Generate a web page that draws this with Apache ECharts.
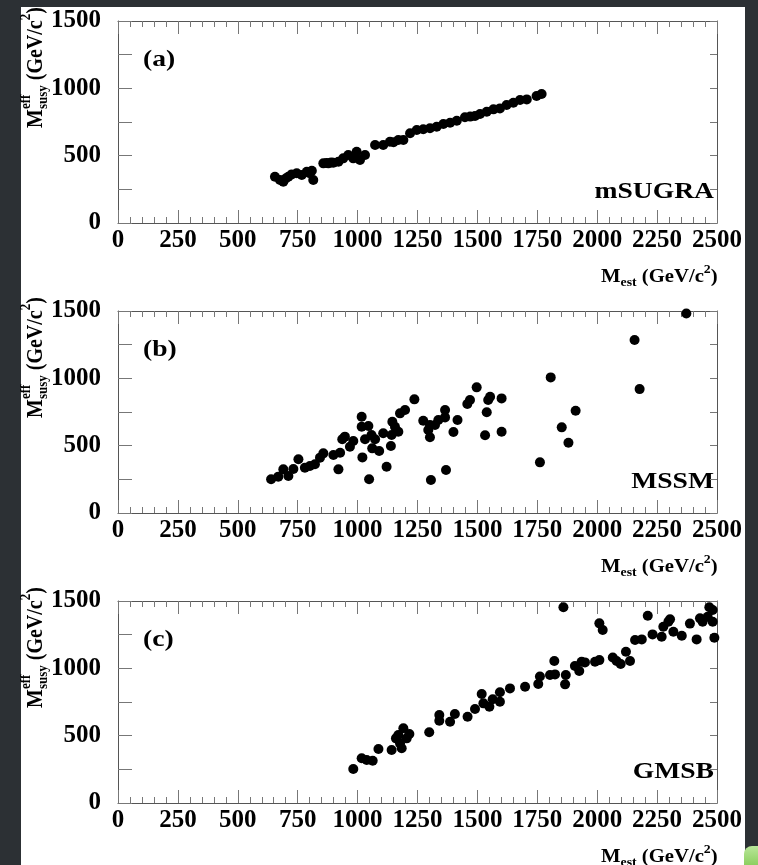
<!DOCTYPE html>
<html>
<head>
<meta charset="utf-8">
<script src="https://cdn.jsdelivr.net/npm/echarts@6/dist/echarts.min.js"></script>
<style>
  html, body { margin: 0; padding: 0; background: #2c3034; }
  #paper { position: absolute; left: 21px; top: 7px; width: 724px; height: 858px; background: #ffffff; }
  #blob { position: absolute; left: 744px; top: 846px; width: 22px; height: 26px; border-radius: 8px 0 0 0;
          background: linear-gradient(180deg, #b9e79a 0%, #7cc64a 100%); }
  #chart { position: absolute; left: 0; top: 0; width: 758px; height: 865px; }
</style>
</head>
<body>
<div id="paper"></div>
<div id="blob"></div>
<div id="chart"></div>
<script>
// ---------------- data ----------------
const xTicks = [0, 250, 500, 750, 1000, 1250, 1500, 1750, 2000, 2250, 2500];
const yTicks = [0, 500, 1000, 1500];
const panelLetters = ['(a)', '(b)', '(c)'];
const panelModels = ['mSUGRA', 'MSSM', 'GMSB'];

const msugraX = [655,676,690,700,711,725,746,767,788,800,809,815,857,870,878,890,899,920,940,961,982,996,1010,1031,1073,1107,1135,1150,1170,1191,1219,1247,1274,1302,1330,1358,1386,1414,1448,1470,1490,1511,1539,1567,1594,1622,1650,1678,1706,1747,1768];
const msugraY = [344,319,307,330,344,361,369,356,381,370,388,319,443,445,443,450,448,455,480,505,480,529,468,505,579,579,604,600,616,616,666,690,696,703,715,735,745,759,785,790,794,809,826,844,851,876,893,913,918,943,958];

const mssmX = [639,669,690,711,732,753,780,801,822,843,857,899,920,927,936,947,968,982,1017,1017,1020,1031,1045,1048,1058,1061,1073,1090,1107,1121,1139,1142,1145,1156,1170,1177,1198,1237,1274,1295,1302,1302,1306,1323,1337,1365,1365,1369,1400,1417,1458,1469,1497,1532,1539,1545,1553,1601,1601,1761,1806,1852,1880,1910,2156,2177,2372];
const mssmY = [250,270,324,275,327,399,336,349,362,411,443,431,324,448,547,567,492,534,715,641,413,547,646,250,579,480,547,460,592,344,497,579,678,641,604,740,765,844,685,616,653,562,245,653,690,765,710,319,601,690,809,839,933,577,748,839,863,851,604,376,1007,636,522,759,1284,920,1482];

const gmsbX = [982,1017,1038,1063,1087,1142,1160,1170,1177,1184,1191,1205,1216,1299,1341,1341,1386,1406,1459,1490,1518,1525,1550,1564,1594,1594,1636,1699,1754,1761,1803,1821,1824,1859,1866,1869,1907,1925,1935,1949,1991,2009,2009,2023,2065,2081,2098,2120,2137,2158,2186,2211,2231,2269,2276,2297,2304,2318,2353,2387,2415,2429,2440,2461,2468,2482,2482,2489];
const gmsbY = [252,332,319,314,401,393,480,505,443,406,555,480,512,525,653,611,604,661,641,698,809,740,715,770,752,822,851,863,884,939,950,1054,955,1453,881,950,1017,980,1049,1044,1049,1061,1334,1284,1081,1054,1032,1123,1054,1210,1215,1391,1252,1235,1309,1346,1364,1272,1242,1332,1215,1371,1346,1383,1453,1346,1433,1227];

const seriesX = [msugraX, mssmX, gmsbX];
const seriesY = [msugraY, mssmY, gmsbY];

// ---------------- layout / style ----------------
const FONT = "'Liberation Serif', 'Times New Roman', serif";
const GRID_LEFT = 118, GRID_W = 599, GRID_H = 202;
const GRID_TOPS = [21, 311, 601];

const cvs = document.createElement('canvas');
const ctx = cvs.getContext('2d');
function measure(t, s) { ctx.font = 'bold ' + s + 'px ' + FONT; return ctx.measureText(t).width; }

function textEl(t, s, x, y, align, sx) {
  align = align || 'left';
  return { type: 'text', x: x, y: y, scaleX: sx || 1, silent: true,
    style: { text: t, fill: '#000', font: 'bold ' + s + 'px ' + FONT,
             align: align, verticalAlign: 'middle', textAlign: align, textVerticalAlign: 'middle' } };
}
function richLabel(parts, x, y, rotation, sx, sy) {
  const children = [];
  let cx = 0, pending = 0;
  parts.forEach(p => {
    children.push(textEl(p.t, p.s, cx, p.dy || 0));
    const w = measure(p.t, p.s);
    if (p.stack) { pending = w; }
    else { cx += Math.max(w, pending); pending = 0; }
  });
  return { type: 'group', x: x, y: y, rotation: rotation || 0, scaleX: sx || 1, scaleY: sy || 1, children: children };
}

const grids = [], xAxes = [], yAxes = [], series = [], graphics = [];
const tickColor = '#777', lineColor = '#555';

for (let i = 0; i < 3; i++) {
  const top = GRID_TOPS[i];
  grids.push({ left: GRID_LEFT, top: top, width: GRID_W, height: GRID_H, containLabel: false });
  const xBase = {
    gridIndex: i, type: 'value', min: xTicks[0], max: xTicks[xTicks.length - 1], interval: 250,
    axisLine: { show: true, onZero: false, lineStyle: { color: lineColor, width: 1 } },
    axisTick: { show: true, inside: true, length: 13, lineStyle: { color: tickColor } },
    minorTick: { show: true, splitNumber: 5, length: 6, lineStyle: { color: tickColor } },
    splitLine: { show: false }, minorSplitLine: { show: false }
  };
  xAxes.push(Object.assign({}, xBase, { position: 'bottom',
    axisLabel: { show: true, margin: 5, fontSize: 25, fontWeight: 'bold', fontFamily: FONT, color: '#000',
                 showMinLabel: true, showMaxLabel: true, hideOverlap: false,
                 formatter: v => (xTicks.indexOf(v) >= 0 ? String(v) : '') } }));
  xAxes.push(Object.assign({}, xBase, { position: 'top', axisLabel: { show: false } }));
  const yBase = {
    gridIndex: i, type: 'value', min: 0, max: 1500, interval: 250,
    axisLine: { show: true, onZero: false, lineStyle: { color: lineColor, width: 1 } },
    splitLine: { show: false }
  };
  yAxes.push(Object.assign({}, yBase, { position: 'left',
    axisTick: { show: true, inside: true, length: 14, lineStyle: { color: tickColor } },
    axisLabel: { show: true, margin: 17, fontSize: 25, fontWeight: 'bold', fontFamily: FONT, color: '#000',
                 showMinLabel: true, showMaxLabel: true,
                 formatter: v => (yTicks.indexOf(v) >= 0 ? String(v) : '') } }));
  yAxes.push(Object.assign({}, yBase, { position: 'right',
    axisTick: { show: true, inside: true, length: 7, lineStyle: { color: tickColor } },
    axisLabel: { show: false } }));

  series.push({
    type: 'scatter', xAxisIndex: 2 * i, yAxisIndex: 2 * i,
    data: seriesX[i].map((x, k) => [x, seriesY[i][k]]),
    symbol: 'circle', symbolSize: 10, itemStyle: { color: '#000', opacity: 1 }, silent: true
  });

  // panel letter and model name
  graphics.push(textEl(panelLetters[i], 23, 143, top + 39, 'left', 1.2));
  graphics.push(textEl(panelModels[i], 23, 714, top + 171, 'right', 1.2));

  // y axis title (rotated)
  graphics.push(richLabel([
    { t: 'M', s: 20 },
    { t: 'eff', s: 13, dy: -8, stack: true },
    { t: 'susy', s: 13, dy: 6 },
    { t: ' (GeV/c', s: 20 },
    { t: '2', s: 13, dy: -8 },
    { t: ')', s: 20 }
  ], 36, top + 107, Math.PI / 2, 1, 1.2));

  // x axis title
  graphics.push(richLabel([
    { t: 'M', s: 18 },
    { t: 'est', s: 12, dy: 6 },
    { t: ' (GeV/c', s: 18 },
    { t: '2', s: 12, dy: -7 },
    { t: ')', s: 18 }
  ], 601, top + 256, 0, 1.15, 1));
}

const chart = echarts.init(document.getElementById('chart'), null, { renderer: 'canvas' });
chart.setOption({
  animation: false,
  backgroundColor: 'transparent',
  grid: grids, xAxis: xAxes, yAxis: yAxes, series: series,
  graphic: { elements: graphics }
});
</script>
</body>
</html>
